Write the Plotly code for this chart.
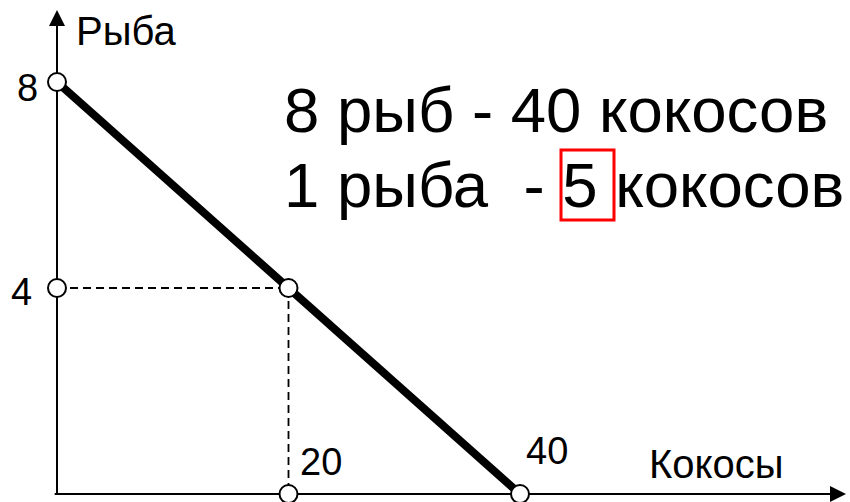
import plotly.graph_objects as go

# Data
ppf_x = [0, 40]          # кокосы
ppf_y = [8, 0]           # рыба
point_x = [0, 0, 20, 20, 40]
point_y = [8, 4, 4, 0, 0]
guide_h_x = [0, 20]
guide_h_y = [4, 4]
guide_v_x = [20, 20]
guide_v_y = [4, 0]
y_ticks = [8, 4]
x_ticks = [20, 40]
line1 = "8 рыб - 40 кокосов"
line2 = "1 рыба  - 5 кокосов"
x_title = "Кокосы"
y_title = "Рыба"

W, H = 850, 502
# pixel mapping: x=0 -> 57px, 11.575 px/unit ; y=0 -> 494px, 51.5 px/unit
x0px, xs = 57, 11.575
y0px, ys = 494, 51.5
xr = [-x0px / xs, (W - x0px) / xs]
yr = [-(H - y0px) / ys, y0px / ys]

FONT = "Liberation Sans, Arial, sans-serif"

fig = go.Figure()
# guides
for gx, gy in [(guide_h_x, guide_h_y), (guide_v_x, guide_v_y)]:
    fig.add_trace(go.Scatter(x=gx, y=gy, mode="lines",
                             line=dict(color="black", width=1.8, dash="8px,5px"),
                             hoverinfo="skip", showlegend=False))
# PPF line
fig.add_trace(go.Scatter(x=ppf_x, y=ppf_y, mode="lines",
                         line=dict(color="black", width=8),
                         showlegend=False))
# points
fig.add_trace(go.Scatter(x=point_x, y=point_y, mode="markers",
                         marker=dict(size=18, color="white",
                                     line=dict(color="black", width=2)),
                         showlegend=False))

x_tip = (846 - x0px) / xs
y_tip = (y0px - 10) / ys

shapes = [
    dict(type="line", xref="x", yref="y", x0=-0.2, y0=0, x1=x_tip - 0.5, y1=0,
         line=dict(color="black", width=2), layer="below"),
    dict(type="line", xref="x", yref="y", x0=0, y0=0, x1=0, y1=y_tip - 0.1,
         line=dict(color="black", width=2), layer="below"),
    dict(type="rect", xref="paper", yref="paper",
         x0=561 / W, x1=614 / W, y0=1 - 220 / H, y1=1 - 150 / H,
         line=dict(color="#ff0000", width=3)),
]

annotations = [
    # arrowheads
    dict(x=x_tip, y=0, ax=x_tip - 3, ay=0, xref="x", yref="y", axref="x", ayref="y",
         text="", showarrow=True, arrowhead=2, arrowsize=1.6, arrowwidth=2, arrowcolor="black"),
    dict(x=0, y=y_tip, ax=0, ay=y_tip - 0.6, xref="x", yref="y", axref="x", ayref="y",
         text="", showarrow=True, arrowhead=2, arrowsize=1.6, arrowwidth=2, arrowcolor="black"),
]
# y tick labels
for v, xs_shift, ys_shift in zip(y_ticks, [-30, -36], [-6, -4]):
    annotations.append(dict(x=0, y=v, xref="x", yref="y", text=str(v), showarrow=False,
                            xshift=xs_shift, yshift=ys_shift,
                            font=dict(family=FONT, size=38, color="black")))
# x tick labels
for v, xs_shift, ys_shift in zip(x_ticks, [32, 27], [32, 43]):
    annotations.append(dict(x=v, y=0, xref="x", yref="y", text=str(v), showarrow=False,
                            xshift=xs_shift, yshift=ys_shift,
                            font=dict(family=FONT, size=38, color="black")))
# axis titles
annotations.append(dict(x=(716 - x0px) / xs, y=0, xref="x", yref="y", text=x_title,
                        showarrow=False, yshift=30,
                        font=dict(family=FONT, size=40, color="black")))
annotations.append(dict(x=0, y=y_tip, xref="x", yref="y", text=y_title,
                        showarrow=False, xanchor="left", xshift=17, yshift=-21,
                        font=dict(family=FONT, size=40, color="black")))
# statement text
annotations.append(dict(x=282 / W, y=1 - 110 / H, xref="paper", yref="paper", text=line1,
                        showarrow=False, xanchor="left", yanchor="middle",
                        font=dict(family=FONT, size=63.5, color="black")))
annotations.append(dict(x=282 / W, y=1 - 185 / H, xref="paper", yref="paper", text=line2,
                        showarrow=False, xanchor="left", yanchor="middle",
                        font=dict(family=FONT, size=63.5, color="black")))

fig.update_layout(
    width=W, height=H, autosize=False,
    margin=dict(l=0, r=0, t=0, b=0),
    paper_bgcolor="white", plot_bgcolor="white",
    xaxis=dict(range=xr, visible=False, fixedrange=True),
    yaxis=dict(range=yr, visible=False, fixedrange=True),
    shapes=shapes, annotations=annotations,
    showlegend=False,
)
fig.write_html("out.html", config={"displayModeBar": False},
               post_script="document.body.style.margin='0';document.body.style.overflow='hidden';")
